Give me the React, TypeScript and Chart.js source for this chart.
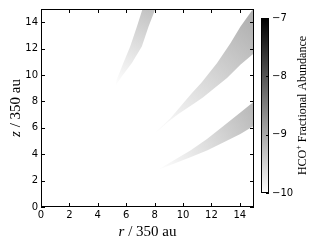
import React, { useEffect, useRef } from "react";
import { Chart, registerables } from "chart.js";

Chart.register(...registerables);

// ---- axis ticks ----
const rTicks = [0, 2, 4, 6, 8, 10, 12, 14];
const zTicks = [0, 2, 4, 6, 8, 10, 12, 14];
const cbTicks = [-10, -9, -8, -7];
const cbMin = -10;
const cbMax = -7;

// ---- band outlines (r, z in units of 350 au), closed polygons starting at the tip ----
const band1R = [5.22, 5.34, 5.8, 6.28, 6.75, 7.15, 8.05, 7.57, 7.1, 6.4, 5.7, 5.22];
const band1Z = [9.15, 9.65, 10.9, 12.15, 13.65, 15.0, 15.0, 13.65, 12.15, 10.9, 9.9, 9.15];

const band2R = [7.9, 8.5, 9.1, 10.0, 10.6, 11.31, 12.4, 13.34, 14.04, 14.87, 14.92, 15.0, 15.0, 14.04, 13.1, 12.16, 11.4, 10.6, 9.67, 9.0, 8.26, 7.9];
const band2Z = [5.53, 6.1, 6.7, 7.85, 8.6, 9.43, 10.9, 12.4, 13.65, 14.9, 15.0, 15.0, 11.65, 10.78, 9.78, 8.95, 8.3, 7.7, 7.05, 6.5, 5.8, 5.53];

const band3R = [8.2, 9.3, 10.52, 11.69, 12.87, 14.04, 15.0, 15.0, 14.04, 12.87, 11.69, 10.52, 9.3, 8.2];
const band3Z = [2.8, 3.5, 4.28, 5.15, 6.15, 7.15, 8.0, 6.15, 5.53, 4.9, 4.28, 3.77, 3.25, 2.8];

// far end of each band (direction of increasing abundance)
const band1Far = [7.7, 15.0];
const band2Far = [15.0, 14.0];
const band3Far = [15.0, 7.3];

// log10 HCO+ abundance: tip, middle, far end
const band1Abund = [-10, -9.65, -9.28];
const band2Abund = [-10, -9.55, -9.08];
const band3Abund = [-10, -9.6, -9.18];

const bands = [
  { r: band1R, z: band1Z, far: band1Far, abund: band1Abund },
  { r: band2R, z: band2Z, far: band2Far, abund: band2Abund },
  { r: band3R, z: band3Z, far: band3Far, abund: band3Abund },
];

function grayFor(v: number) {
  const t = Math.min(1, Math.max(0, (v - cbMin) / (cbMax - cbMin)));
  const g = Math.round(255 * (1 - t));
  return `rgb(${g},${g},${g})`;
}

function bandGradient(chart: any, b: any) {
  const xs = chart.scales?.x;
  const ys = chart.scales?.y;
  if (!chart.chartArea || !xs || !ys) return grayFor(b.abund[1]);
  const x0 = xs.getPixelForValue(b.r[0]);
  const y0 = ys.getPixelForValue(b.z[0]);
  const x1 = xs.getPixelForValue(b.far[0]);
  const y1 = ys.getPixelForValue(b.far[1]);
  const g = chart.ctx.createLinearGradient(x0, y0, x1, y1);
  const n = b.abund.length;
  b.abund.forEach((v: number, i: number) => g.addColorStop(i / (n - 1), grayFor(v)));
  return g;
}

const tickFont = { family: "'DejaVu Sans', sans-serif", size: 10 };
const fmt = (v: number) => (v < 0 ? "\u2212" + Math.abs(v) : String(v));

function drawParts(ctx: CanvasRenderingContext2D, parts: [string, string, number][], cx: number) {
  let total = 0;
  for (const [t, f] of parts) {
    ctx.font = f;
    total += ctx.measureText(t).width;
  }
  let x = cx - total / 2;
  for (const [t, f, dy] of parts) {
    ctx.font = f;
    ctx.fillText(t, x, dy);
    x += ctx.measureText(t).width;
  }
}

const framePlugin = {
  id: "frame",
  afterDraw(chart: any) {
    const { ctx, chartArea, scales } = chart;
    const { left, right, top, bottom } = chartArea;
    const xs = scales.x;
    const ys = scales.y;
    ctx.save();
    ctx.strokeStyle = "#000";
    ctx.lineWidth = 1;
    ctx.beginPath();
    const tl = 4;
    rTicks.forEach((v) => {
      const px = Math.round(xs.getPixelForValue(v)) + 0.5;
      ctx.moveTo(px, bottom);
      ctx.lineTo(px, bottom - tl);
      ctx.moveTo(px, top);
      ctx.lineTo(px, top + tl);
    });
    zTicks.forEach((v) => {
      const py = Math.round(ys.getPixelForValue(v)) + 0.5;
      ctx.moveTo(left, py);
      ctx.lineTo(left + tl, py);
      ctx.moveTo(right, py);
      ctx.lineTo(right - tl, py);
    });
    ctx.stroke();
    ctx.strokeRect(Math.round(left) + 0.5, Math.round(top) + 0.5, Math.round(right - left) - 1, Math.round(bottom - top) - 1);

    // axis labels
    ctx.fillStyle = "#000";
    ctx.textBaseline = "alphabetic";
    ctx.textAlign = "left";
    const it = 'italic 15px "Liberation Serif", serif';
    const rm = '15px "Liberation Serif", serif';
    ctx.save();
    ctx.translate(0, 236);
    drawParts(ctx, [["r", it, 0], [" / 350 au", rm, 0]], (left + right) / 2);
    ctx.restore();
    ctx.save();
    ctx.translate(20, (top + bottom) / 2);
    ctx.rotate(-Math.PI / 2);
    drawParts(ctx, [["z", it, 0], [" / 350 au", rm, 0]], 0);
    ctx.restore();
    ctx.restore();
  },
};

const colorbarPlugin = {
  id: "colorbar",
  afterDraw(chart: any) {
    const { ctx, chartArea, scales } = chart;
    const { left, right, top, bottom } = chartArea;
    const ys = scales.y;
    ctx.save();
    const yb = ys.getPixelForValue(cbMin);
    const yt = ys.getPixelForValue(cbMax);
    const g = ctx.createLinearGradient(0, yb, 0, yt);
    g.addColorStop(0, grayFor(cbMin));
    g.addColorStop(1, grayFor(cbMax));
    ctx.fillStyle = g;
    ctx.fillRect(left, top, right - left, bottom - top);
    ctx.strokeStyle = "#000";
    ctx.lineWidth = 1;
    ctx.strokeRect(Math.round(left) + 0.5, Math.round(top) + 0.5, Math.round(right - left) - 1, Math.round(bottom - top) - 1);
    ctx.beginPath();
    cbTicks.forEach((v) => {
      const py = Math.round(ys.getPixelForValue(v)) + 0.5;
      ctx.moveTo(right, py);
      ctx.lineTo(right - 3, py);
    });
    ctx.stroke();

    // colorbar label
    ctx.fillStyle = "#000";
    ctx.textBaseline = "alphabetic";
    ctx.textAlign = "left";
    const f = '12px "Liberation Serif", serif';
    const fs = '8px "Liberation Serif", serif';
    ctx.translate(306 - 255, (top + bottom) / 2);
    ctx.rotate(-Math.PI / 2);
    drawParts(ctx, [["HCO", f, 0], ["+", fs, -5], [" Fractional Abundance", f, 0]], 0);
    ctx.restore();
  },
};

export default function App() {
  const mainRef = useRef<HTMLCanvasElement>(null);
  const cbRef = useRef<HTMLCanvasElement>(null);

  useEffect(() => {
    const main = new Chart(mainRef.current as HTMLCanvasElement, {
      type: "scatter",
      data: {
        datasets: bands.map((b) => ({
          data: b.r.map((r, i) => ({ x: r, y: b.z[i] })),
          showLine: true,
          fill: "shape",
          borderWidth: 0,
          borderColor: "rgba(0,0,0,0)",
          pointRadius: 0,
          pointHoverRadius: 0,
          tension: 0,
          backgroundColor: (c: any) => bandGradient(c.chart, b),
        })),
      } as any,
      options: {
        responsive: false,
        animation: false,
        devicePixelRatio: 1,
        events: [],
        layout: { padding: { left: 0, top: 7, right: 62, bottom: 0 } },
        plugins: { legend: { display: false }, tooltip: { enabled: false } },
        scales: {
          x: {
            type: "linear",
            min: 0,
            max: 15,
            grid: { display: false, drawTicks: false },
            border: { display: false },
            ticks: { font: tickFont, color: "#000", padding: 2, maxRotation: 0 },
            afterBuildTicks: (s: any) => {
              s.ticks = rTicks.map((v) => ({ value: v }));
            },
            afterFit: (s: any) => {
              s.height = 40;
            },
          },
          y: {
            type: "linear",
            min: 0,
            max: 15,
            grid: { display: false, drawTicks: false },
            border: { display: false },
            ticks: { font: tickFont, color: "#000", padding: 3 },
            afterBuildTicks: (s: any) => {
              s.ticks = zTicks.map((v) => ({ value: v }));
            },
            afterFit: (s: any) => {
              s.width = 41;
            },
          },
        },
      } as any,
      plugins: [framePlugin],
    });

    const cb = new Chart(cbRef.current as HTMLCanvasElement, {
      type: "scatter",
      data: { datasets: [] },
      options: {
        responsive: false,
        animation: false,
        devicePixelRatio: 1,
        events: [],
        layout: { padding: { left: 6, top: 18, right: 0, bottom: 54 } },
        plugins: { legend: { display: false }, tooltip: { enabled: false } },
        scales: {
          x: { display: false },
          y: {
            type: "linear",
            position: "right",
            min: cbMin,
            max: cbMax,
            grid: { display: false, drawTicks: false },
            border: { display: false },
            ticks: { font: tickFont, color: "#000", padding: 3, callback: (v: any) => fmt(Number(v)) },
            afterBuildTicks: (s: any) => {
              s.ticks = cbTicks.map((v) => ({ value: v }));
            },
            afterFit: (s: any) => {
              s.width = 47;
            },
          },
        },
      } as any,
      plugins: [colorbarPlugin],
    });

    return () => {
      main.destroy();
      cb.destroy();
    };
  }, []);

  return (
    <div style={{ position: "fixed", left: 0, top: 0, width: 316, height: 247, background: "#fff" }}>
      <canvas ref={mainRef} width={316} height={247} style={{ position: "absolute", left: 0, top: 0 }} />
      <canvas ref={cbRef} width={61} height={247} style={{ position: "absolute", left: 255, top: 0 }} />
    </div>
  );
}
